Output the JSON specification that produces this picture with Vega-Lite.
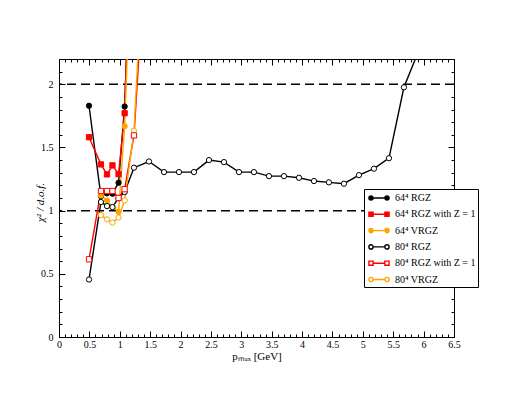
{
  "$schema": "https://vega.github.io/schema/vega-lite/v6.json",
  "width": 395,
  "height": 278,
  "autosize": {"type": "none"},
  "padding": {"left": 59, "top": 59, "right": 58, "bottom": 59},
  "background": "white",
  "datasets": {
    "pts": [
      {"series": "64⁴ RGZ", "p": 0.494, "chi": 1.83},
      {"series": "64⁴ RGZ", "p": 0.69, "chi": 1.115},
      {"series": "64⁴ RGZ", "p": 0.79, "chi": 1.137},
      {"series": "64⁴ RGZ", "p": 0.88, "chi": 1.134},
      {"series": "64⁴ RGZ", "p": 0.98, "chi": 1.221},
      {"series": "64⁴ RGZ", "p": 1.08, "chi": 1.824},
      {"series": "64⁴ RGZ", "p": 1.2, "chi": 3.4},
      {"series": "64⁴ RGZ with Z = 1", "p": 0.494, "chi": 1.581},
      {"series": "64⁴ RGZ with Z = 1", "p": 0.69, "chi": 1.366},
      {"series": "64⁴ RGZ with Z = 1", "p": 0.79, "chi": 1.287},
      {"series": "64⁴ RGZ with Z = 1", "p": 0.88, "chi": 1.358},
      {"series": "64⁴ RGZ with Z = 1", "p": 0.98, "chi": 1.289},
      {"series": "64⁴ RGZ with Z = 1", "p": 1.08, "chi": 1.771},
      {"series": "64⁴ RGZ with Z = 1", "p": 1.2, "chi": 3.6},
      {"series": "64⁴ VRGZ", "p": 0.69, "chi": 1.12},
      {"series": "64⁴ VRGZ", "p": 0.79, "chi": 1.08},
      {"series": "64⁴ VRGZ", "p": 0.88, "chi": 1.03},
      {"series": "64⁴ VRGZ", "p": 0.98, "chi": 0.99},
      {"series": "64⁴ VRGZ", "p": 1.08, "chi": 1.668},
      {"series": "64⁴ VRGZ", "p": 1.2, "chi": 3.2},
      {"series": "80⁴ RGZ", "p": 0.494, "chi": 0.455},
      {"series": "80⁴ RGZ", "p": 0.69, "chi": 1.068},
      {"series": "80⁴ RGZ", "p": 0.79, "chi": 1.036},
      {"series": "80⁴ RGZ", "p": 0.88, "chi": 1.028},
      {"series": "80⁴ RGZ", "p": 0.98, "chi": 1.1},
      {"series": "80⁴ RGZ", "p": 1.08, "chi": 1.147},
      {"series": "80⁴ RGZ", "p": 1.234, "chi": 1.34},
      {"series": "80⁴ RGZ", "p": 1.481, "chi": 1.389},
      {"series": "80⁴ RGZ", "p": 1.728, "chi": 1.305},
      {"series": "80⁴ RGZ", "p": 1.974, "chi": 1.305},
      {"series": "80⁴ RGZ", "p": 2.221, "chi": 1.305},
      {"series": "80⁴ RGZ", "p": 2.468, "chi": 1.4},
      {"series": "80⁴ RGZ", "p": 2.715, "chi": 1.384},
      {"series": "80⁴ RGZ", "p": 2.962, "chi": 1.305},
      {"series": "80⁴ RGZ", "p": 3.208, "chi": 1.305},
      {"series": "80⁴ RGZ", "p": 3.455, "chi": 1.273},
      {"series": "80⁴ RGZ", "p": 3.702, "chi": 1.273},
      {"series": "80⁴ RGZ", "p": 3.949, "chi": 1.26},
      {"series": "80⁴ RGZ", "p": 4.196, "chi": 1.234},
      {"series": "80⁴ RGZ", "p": 4.442, "chi": 1.224},
      {"series": "80⁴ RGZ", "p": 4.689, "chi": 1.213},
      {"series": "80⁴ RGZ", "p": 4.936, "chi": 1.281},
      {"series": "80⁴ RGZ", "p": 5.183, "chi": 1.332},
      {"series": "80⁴ RGZ", "p": 5.43, "chi": 1.415},
      {"series": "80⁴ RGZ", "p": 5.676, "chi": 1.976},
      {"series": "80⁴ RGZ", "p": 5.923, "chi": 2.27},
      {"series": "80⁴ RGZ with Z = 1", "p": 0.494, "chi": 0.615},
      {"series": "80⁴ RGZ with Z = 1", "p": 0.69, "chi": 1.155},
      {"series": "80⁴ RGZ with Z = 1", "p": 0.79, "chi": 1.155},
      {"series": "80⁴ RGZ with Z = 1", "p": 0.88, "chi": 1.155},
      {"series": "80⁴ RGZ with Z = 1", "p": 0.98, "chi": 1.1},
      {"series": "80⁴ RGZ with Z = 1", "p": 1.08, "chi": 1.17},
      {"series": "80⁴ RGZ with Z = 1", "p": 1.234, "chi": 1.595},
      {"series": "80⁴ RGZ with Z = 1", "p": 1.481, "chi": 3.5},
      {"series": "80⁴ VRGZ", "p": 0.69, "chi": 0.965},
      {"series": "80⁴ VRGZ", "p": 0.79, "chi": 0.931},
      {"series": "80⁴ VRGZ", "p": 0.88, "chi": 0.905},
      {"series": "80⁴ VRGZ", "p": 0.98, "chi": 0.945},
      {"series": "80⁴ VRGZ", "p": 1.08, "chi": 1.081},
      {"series": "80⁴ VRGZ", "p": 1.234, "chi": 1.632},
      {"series": "80⁴ VRGZ", "p": 1.481, "chi": 3.9}
    ],
    "ref": [{"v": 1}, {"v": 2}]
  },
  "config": {
    "view": {"stroke": null},
    "axis": {
      "grid": false,
      "domainColor": "black",
      "domainWidth": 1,
      "tickColor": "black",
      "tickWidth": 1,
      "labelColor": "black",
      "labelFont": "Liberation Serif",
      "labelFontSize": 10,
      "titleFont": "Liberation Serif",
      "titleColor": "black",
      "titleFontWeight": "normal",
      "labelOverlap": false,
      "labelBound": false,
      "labelFlush": false
    },
    "legend": {
      "orient": "none",
      "legendX": 305,
      "legendY": 130,
      "strokeColor": "black",
      "fillColor": "white",
      "padding": 2,
      "rowPadding": 4.3,
      "symbolSize": 144,
      "symbolOffset": 6,
      "symbolStrokeWidth": 1,
      "symbolOpacity": 1,
      "labelFont": "Liberation Serif",
      "labelFontSize": 10,
      "labelColor": "black",
      "labelOffset": 9,
      "labelLimit": 300
    }
  },
  "resolve": {
    "scale": {"x": "shared", "y": "shared"},
    "axis": {"x": "independent", "y": "independent"}
  },
  "layer": [
    {
      "data": {"name": "ref"},
      "mark": {"type": "rule", "strokeDash": [9, 5], "strokeWidth": 1.5, "color": "black"},
      "encoding": {
        "y": {"field": "v", "type": "quantitative", "scale": {"domain": [0, 2.2], "nice": false, "zero": false}, "axis": null}
      }
    },
    {
      "data": {"name": "pts"},
      "mark": {"type": "line", "clip": true},
      "encoding": {
        "x": {
          "field": "p", "type": "quantitative",
          "scale": {"domain": [0, 6.5], "nice": false, "zero": false},
          "axis": {
            "orient": "bottom",
            "title": "pₘₐₓ [GeV]",
            "titleFontSize": 11,
            "titleX": 197.5,
            "titleY": 19,
            "titleBaseline": "middle",
            "values": [0,0.1,0.2,0.3,0.4,0.5,0.6,0.7,0.8,0.9,1,1.1,1.2,1.3,1.4,1.5,1.6,1.7,1.8,1.9,2,2.1,2.2,2.3,2.4,2.5,2.6,2.7,2.8,2.9,3,3.1,3.2,3.3,3.4,3.5,3.6,3.7,3.8,3.9,4,4.1,4.2,4.3,4.4,4.5,4.6,4.7,4.8,4.9,5,5.1,5.2,5.3,5.4,5.5,5.6,5.7,5.8,5.9,6,6.1,6.2,6.3,6.4,6.5],
            "tickSize": {"condition": {"test": "abs(datum.value*2 - round(datum.value*2)) < 0.001", "value": -6}, "value": -3},
            "labelExpr": "abs(datum.value*2 - round(datum.value*2)) < 0.001 ? format(datum.value, '~g') : ''",
            "labelPadding": 8
          }
        },
        "y": {
          "field": "chi", "type": "quantitative",
          "scale": {"domain": [0, 2.2], "nice": false, "zero": false},
          "axis": {
            "orient": "left",
            "title": "χ² / d.o.f.",
            "titleFontSize": 11,
            "titleFontStyle": "italic",
            "titleX": -19,
            "titleY": 143,
            "titleAngle": -90,
            "titleAlign": "center",
            "titleBaseline": "middle",
            "values": [0,0.1,0.2,0.3,0.4,0.5,0.6,0.7,0.8,0.9,1,1.1,1.2,1.3,1.4,1.5,1.6,1.7,1.8,1.9,2,2.1,2.2],
            "tickSize": {"condition": {"test": "abs(datum.value*2 - round(datum.value*2)) < 0.001", "value": -6}, "value": -3},
            "labelExpr": "abs(datum.value*2 - round(datum.value*2)) < 0.001 ? format(datum.value, '~g') : ''",
            "labelPadding": 12
          }
        },
        "stroke": {
          "field": "series", "type": "nominal",
          "scale": {
            "domain": ["64⁴ RGZ", "64⁴ RGZ with Z = 1", "64⁴ VRGZ", "80⁴ RGZ", "80⁴ RGZ with Z = 1", "80⁴ VRGZ"],
            "range": ["#000000", "#ff0000", "#ffa500", "#000000", "#ff0000", "#ffa500"]
          },
          "legend": {"title": null}
        },
        "strokeWidth": {
          "field": "series", "type": "nominal",
          "scale": {
            "domain": ["64⁴ RGZ", "64⁴ RGZ with Z = 1", "64⁴ VRGZ", "80⁴ RGZ", "80⁴ RGZ with Z = 1", "80⁴ VRGZ"],
            "range": [1.4, 1.4, 1.4, 0.9, 0.9, 0.9]
          },
          "legend": null
        }
      }
    },
    {
      "data": {"name": "pts"},
      "transform": [{"filter": {"field": "series", "oneOf": ["64⁴ RGZ", "64⁴ VRGZ", "80⁴ RGZ", "80⁴ VRGZ"]}}],
      "mark": {"type": "point", "shape": "circle", "size": 28, "strokeWidth": 1, "opacity": 1, "clip": true},
      "encoding": {
        "x": {
          "field": "p", "type": "quantitative",
          "axis": {
            "orient": "top", "title": null, "labels": false,
            "values": [0,0.1,0.2,0.3,0.4,0.5,0.6,0.7,0.8,0.9,1,1.1,1.2,1.3,1.4,1.5,1.6,1.7,1.8,1.9,2,2.1,2.2,2.3,2.4,2.5,2.6,2.7,2.8,2.9,3,3.1,3.2,3.3,3.4,3.5,3.6,3.7,3.8,3.9,4,4.1,4.2,4.3,4.4,4.5,4.6,4.7,4.8,4.9,5,5.1,5.2,5.3,5.4,5.5,5.6,5.7,5.8,5.9,6,6.1,6.2,6.3,6.4,6.5],
            "tickSize": {"condition": {"test": "abs(datum.value*2 - round(datum.value*2)) < 0.001", "value": -6}, "value": -3}
          }
        },
        "y": {
          "field": "chi", "type": "quantitative",
          "axis": {
            "orient": "right", "title": null, "labels": false,
            "values": [0,0.1,0.2,0.3,0.4,0.5,0.6,0.7,0.8,0.9,1,1.1,1.2,1.3,1.4,1.5,1.6,1.7,1.8,1.9,2,2.1,2.2],
            "tickSize": {"condition": {"test": "abs(datum.value*2 - round(datum.value*2)) < 0.001", "value": -6}, "value": -3}
          }
        },
        "stroke": {"field": "series", "type": "nominal", "legend": {"title": null}},
        "fill": {
          "field": "series", "type": "nominal",
          "scale": {
            "domain": ["64⁴ RGZ", "64⁴ RGZ with Z = 1", "64⁴ VRGZ", "80⁴ RGZ", "80⁴ RGZ with Z = 1", "80⁴ VRGZ"],
            "range": ["#000000", "#ff0000", "#ffa500", "#ffffff", "#ffffff", "#ffffff"]
          },
          "legend": {"title": null}
        }
      }
    },
    {
      "data": {"name": "pts"},
      "transform": [{"filter": {"field": "series", "oneOf": ["64⁴ RGZ with Z = 1", "80⁴ RGZ with Z = 1"]}}],
      "mark": {"type": "point", "shape": "square", "size": 28, "strokeWidth": 1, "opacity": 1, "clip": true},
      "encoding": {
        "x": {"field": "p", "type": "quantitative", "axis": null},
        "y": {"field": "chi", "type": "quantitative", "axis": null},
        "stroke": {"field": "series", "type": "nominal", "legend": {"title": null}},
        "fill": {"field": "series", "type": "nominal", "legend": {"title": null}}
      }
    },
    {
      "data": {"name": "pts"},
      "mark": {"type": "point", "opacity": 0, "clip": true},
      "encoding": {
        "x": {"field": "p", "type": "quantitative", "axis": null},
        "y": {"field": "chi", "type": "quantitative", "axis": null},
        "stroke": {"field": "series", "type": "nominal", "legend": {"title": null}},
        "fill": {"field": "series", "type": "nominal", "legend": {"title": null}},
        "shape": {
          "field": "series", "type": "nominal",
          "legend": {"title": null},
          "scale": {
            "domain": ["64⁴ RGZ", "64⁴ RGZ with Z = 1", "64⁴ VRGZ", "80⁴ RGZ", "80⁴ RGZ with Z = 1", "80⁴ VRGZ"],
            "range": [
              "M-1.68,0A0.35,0.35,0,1,1,-0.98,0A0.35,0.35,0,1,1,-1.68,0ZM0.98,0A0.35,0.35,0,1,1,1.68,0A0.35,0.35,0,1,1,0.98,0ZM-0.98,0L0.98,0",
              "M-1.68,-0.35H-0.98V0.35H-1.68ZM0.98,-0.35H1.68V0.35H0.98ZM-0.98,0L0.98,0",
              "M-1.68,0A0.35,0.35,0,1,1,-0.98,0A0.35,0.35,0,1,1,-1.68,0ZM0.98,0A0.35,0.35,0,1,1,1.68,0A0.35,0.35,0,1,1,0.98,0ZM-0.98,0L0.98,0",
              "M-1.68,0A0.35,0.35,0,1,1,-0.98,0A0.35,0.35,0,1,1,-1.68,0ZM0.98,0A0.35,0.35,0,1,1,1.68,0A0.35,0.35,0,1,1,0.98,0ZM-0.98,0L0.98,0",
              "M-1.68,-0.35H-0.98V0.35H-1.68ZM0.98,-0.35H1.68V0.35H0.98ZM-0.98,0L0.98,0",
              "M-1.68,0A0.35,0.35,0,1,1,-0.98,0A0.35,0.35,0,1,1,-1.68,0ZM0.98,0A0.35,0.35,0,1,1,1.68,0A0.35,0.35,0,1,1,0.98,0ZM-0.98,0L0.98,0"
            ]
          }
        }
      }
    }
  ]
}
